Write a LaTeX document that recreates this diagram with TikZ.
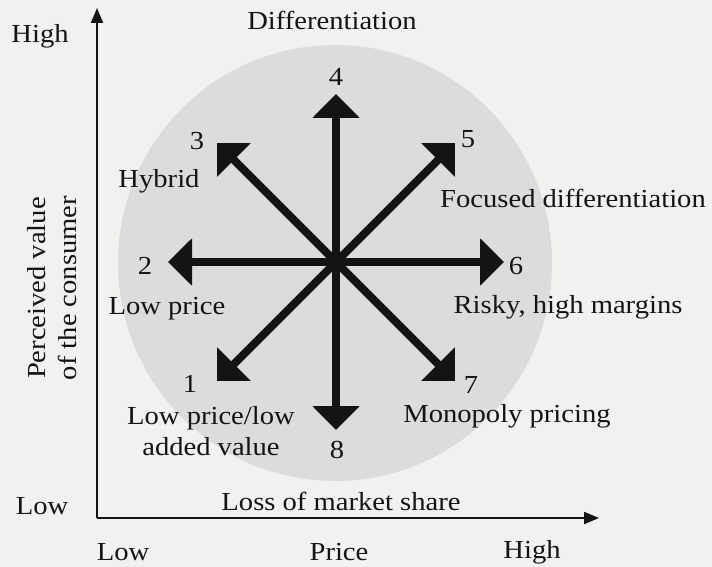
\documentclass[tikz,border=0pt]{standalone}
\usepackage{fontspec}
\setmainfont[FakeStretch=1.1]{Liberation Serif}
\usetikzlibrary{arrows.meta}
\definecolor{bgc}{HTML}{F1F1F0}
\definecolor{circ}{HTML}{DCDCDC}
\definecolor{ink}{HTML}{141414}
\tikzset{
  lbl/.style={inner sep=0pt, text=ink, font=\fontsize{26}{31}\selectfont},
  clockarrow/.style={draw=ink, line width=8pt, -{Triangle[length=24pt,width=46pt]}},
  axis/.style={draw=ink, line width=2pt, -{Triangle[length=15pt,width=12pt]}}
}
\begin{document}
\begin{tikzpicture}[x=1pt,y=-1pt]
\fill[bgc] (0,0) rectangle (712,567);
\useasboundingbox (0,0) rectangle (712,567);
% grey disc
\fill[circ] (335,263) ellipse [x radius=217, y radius=218];
% axes
\coordinate (o) at (97,518);
\coordinate (ytop) at (97,8);
\coordinate (xend) at (599,518);
\draw[axis] (o) -- (ytop);
\draw[axis] (o) -- (xend);
% clock arrows
\coordinate (c) at (336,262);
\coordinate (t1) at (217,381);
\coordinate (t2) at (168,262);
\coordinate (t3) at (217,143);
\coordinate (t4) at (336,94);
\coordinate (t5) at (455,143);
\coordinate (t6) at (504,262);
\coordinate (t7) at (455,381);
\coordinate (t8) at (336,430);
\foreach \i in {1,...,8} {\draw[clockarrow] (c) -- (t\i);}
% numbers
\node[lbl] (n1) at (190,384) {1};
\node[lbl] (n2) at (145,266) {2};
\node[lbl] (n3) at (197,141) {3};
\node[lbl] (n4) at (336,77) {4};
\node[lbl] (n5) at (468,139) {5};
\node[lbl] (n6) at (516,266) {6};
\node[lbl] (n7) at (471,385) {7};
\node[lbl] (n8) at (337,450) {8};
% strategy labels
\node[lbl] (dif) at (332,20) {Differentiation};
\node[lbl] (hyb) at (159,181) {Hybrid};
\node[lbl] (fd) at (573,198) {Focused differentiation};
\node[lbl] (lp) at (167,309) {Low price};
\node[lbl] (rh) at (568,307) {Risky, high margins};
\node[lbl, align=center] (lplav) at (211,431) {Low price/low\\added value};
\node[lbl] (mp) at (507,416) {Monopoly pricing};
\node[lbl] (loss) at (341,501) {Loss of market share};
% axis labels
\node[lbl] (yhigh) at (40,36) {High};
\node[lbl] (ylow) at (42,506) {Low};
\node[lbl, align=center, rotate=90] (pv) at (52,288) {Perceived value\\of the consumer};
\node[lbl] (xlow) at (123,552) {Low};
\node[lbl] (price) at (339,552) {Price};
\node[lbl] (xhigh) at (532,552) {High};
\end{tikzpicture}
\end{document}
